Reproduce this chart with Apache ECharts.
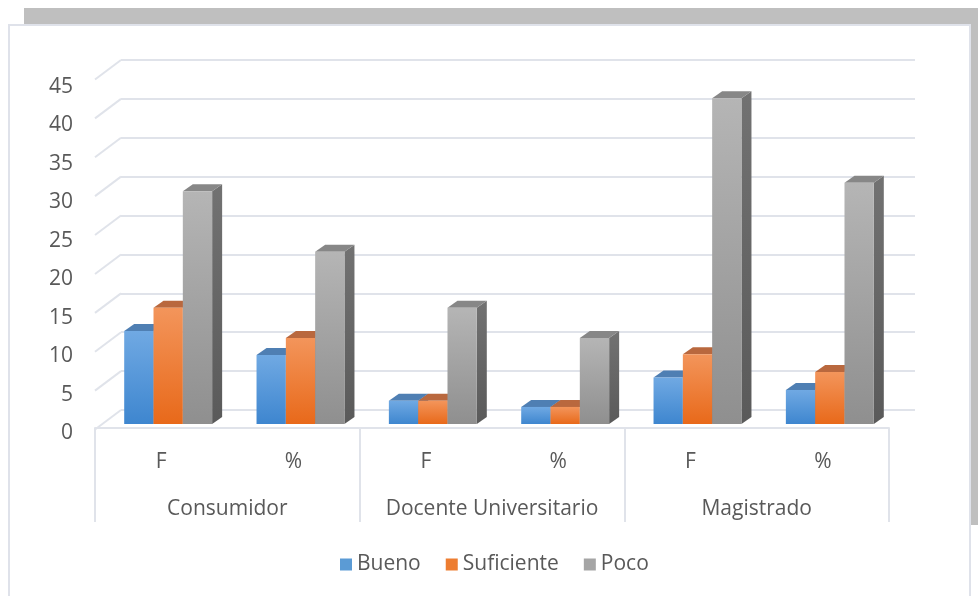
<!DOCTYPE html>
<html><head><meta charset="utf-8">
<script src="https://cdn.jsdelivr.net/npm/echarts@6/dist/echarts.min.js"></script>
<style>
html,body{margin:0;padding:0;background:#fff;}
#wrap{position:relative;width:978px;height:596px;overflow:hidden;background:#fff;}
#topbar{position:absolute;left:24px;top:8px;width:954px;height:16px;background:#bfbfbf;}
#rightbar{position:absolute;left:971px;top:8px;width:7px;height:517px;background:#bfbfbf;}
#panel{position:absolute;left:8px;top:24px;width:959px;height:600px;background:#fff;border:2px solid #dfe2ea;}
#c{position:absolute;left:0;top:0;width:978px;height:596px;}
</style>
</head><body>
<div id="wrap"><div id="topbar"></div><div id="rightbar"></div><div id="panel"></div><div id="c"></div></div>
<script>
// ---- data ----
const categories = ['F', '%', 'F', '%', 'F', '%'];
const groups = ['Consumidor', 'Docente Universitario', 'Magistrado'];
const seriesNames = ['Bueno', 'Suficiente', 'Poco'];
const bueno = [12, 8.9, 3, 2.2, 6, 4.4];
const suficiente = [15, 11.1, 3, 2.2, 9, 6.7];
const poco = [30, 22.2, 15, 11.1, 42, 31.1];
const yTicks = [0, 5, 10, 15, 20, 25, 30, 35, 40, 45];

// ---- styles ----
const legendColors = ['#5b9bd5', '#ed7d31', '#a5a5a5'];
const faces = [
  { front: ['#70a9e3', '#3e86cf'], top: '#4f7fb3', side: ['#3e72aa', '#33649a'] },
  { front: ['#f3955b', '#e8691a'], top: '#b9683e', side: ['#b8581e', '#a34c16'] },
  { front: ['#b5b5b5', '#8f8f8f'], top: '#878787', side: ['#727272', '#5a5a5a'] }
];
const textColor = '#595959';
const lineColor = '#e0e3ea';
const fontFamily = '"Open Sans", "Noto Sans", sans-serif';

function grad(c) {
  if (typeof c === 'string') return c;
  return { type: 'linear', x: 0, y: 0, x2: 0, y2: 1,
    colorStops: [{ offset: 0, color: c[0] }, { offset: 1, color: c[1] }] };
}

function barRenderer(k) {
  const f = faces[k];
  return function (params, api) {
    const i = api.value(0), v = api.value(1);
    const base = api.coord([i, 0]);
    const top = api.coord([i, v]);
    const band = api.size([1, 0])[0];
    const w = band * 0.2215;
    const x0 = base[0] - 1.5 * w + k * w;
    const yb = base[1], yt = top[1];
    const dx = 10, dy = 7;
    return { type: 'group', children: [
      { type: 'polygon', shape: { points: [[x0 + w, yb], [x0 + w + dx, yb - dy], [x0 + w + dx, yt - dy], [x0 + w, yt]] },
        style: { fill: grad(f.side) } },
      { type: 'polygon', shape: { points: [[x0, yt], [x0 + w, yt], [x0 + w + dx, yt - dy], [x0 + dx, yt - dy]] },
        style: { fill: f.top } },
      { type: 'rect', shape: { x: x0, y: yt, width: w, height: yb - yt },
        style: { fill: grad(f.front) } }
    ] };
  };
}

const seriesData = [bueno, suficiente, poco];

const chart = echarts.init(document.getElementById('c'), null, { renderer: 'canvas' });
chart.setOption({
  backgroundColor: 'transparent',
  animation: false,
  textStyle: { fontFamily: fontFamily },
  grid: [
    // back wall
    { left: 121, right: 63, top: 60, bottom: 186 },
    // front plane (category axis)
    { left: 95, right: 89, top: 81, bottom: 168 },
    // bars
    { left: 102, right: 82, top: 75, bottom: 172 },
    // value labels
    { left: 95, right: 89, top: 87, bottom: 163 }
  ],
  xAxis: [
    { gridIndex: 0, type: 'value', min: 0, max: 1, show: false },
    { gridIndex: 1, type: 'category', data: categories, position: 'bottom',
      axisLine: { show: true, lineStyle: { color: lineColor, width: 2 } },
      axisTick: { show: false },
      axisLabel: { margin: 24, color: textColor, fontSize: 21, fontFamily: fontFamily, interval: 0 } },
    { gridIndex: 1, type: 'category', data: groups, position: 'bottom',
      axisLine: { show: false },
      axisTick: { show: true, length: 94, interval: 0, lineStyle: { color: lineColor, width: 2 } },
      axisLabel: { margin: 71, color: textColor, fontSize: 21, fontFamily: fontFamily, interval: 0 } },
    { gridIndex: 2, type: 'category', data: categories, show: false },
    { gridIndex: 3, type: 'category', data: categories, show: false }
  ],
  yAxis: [
    { gridIndex: 0, type: 'value', min: 0, max: 45, interval: 5,
      axisLine: { show: false }, axisTick: { show: false }, axisLabel: { show: false },
      splitLine: { show: true, lineStyle: { color: lineColor, width: 2 } } },
    { gridIndex: 1, type: 'value', min: 0, max: 45, interval: 5, show: false, splitLine: { show: false } },
    { gridIndex: 2, type: 'value', min: 0, max: 45, interval: 5, show: false, splitLine: { show: false } },
    { gridIndex: 3, type: 'value', min: 0, max: 45, interval: 5,
      axisLine: { show: false }, axisTick: { show: false }, splitLine: { show: false },
      axisLabel: { margin: 22, color: textColor, fontSize: 21, fontFamily: fontFamily } }
  ],
  legend: {
    data: seriesNames,
    left: 335, top: 549,
    icon: 'rect', itemWidth: 12, itemHeight: 12, itemGap: 25,
    textStyle: { color: textColor, fontSize: 21, fontFamily: fontFamily }
  },
  series: [
    { type: 'custom', name: 'diagonals', xAxisIndex: 0, yAxisIndex: 0, silent: true, z: 1,
      data: yTicks.map(v => [0, v]),
      renderItem: function (params, api) {
        const p = api.coord([0, api.value(1)]);
        return { type: 'line', shape: { x1: p[0], y1: p[1], x2: p[0] - 26, y2: p[1] + 19.5 },
          style: { stroke: lineColor, lineWidth: 2 } };
      } }
  ].concat(seriesNames.map((name, k) => ({
    type: 'custom', name: name, xAxisIndex: 3, yAxisIndex: 2, z: 3,
    itemStyle: { color: legendColors[k] },
    encode: { x: 0, y: 1 },
    data: seriesData[k].map((v, i) => [i, v]),
    renderItem: barRenderer(k)
  })))
});
</script>
</body></html>
